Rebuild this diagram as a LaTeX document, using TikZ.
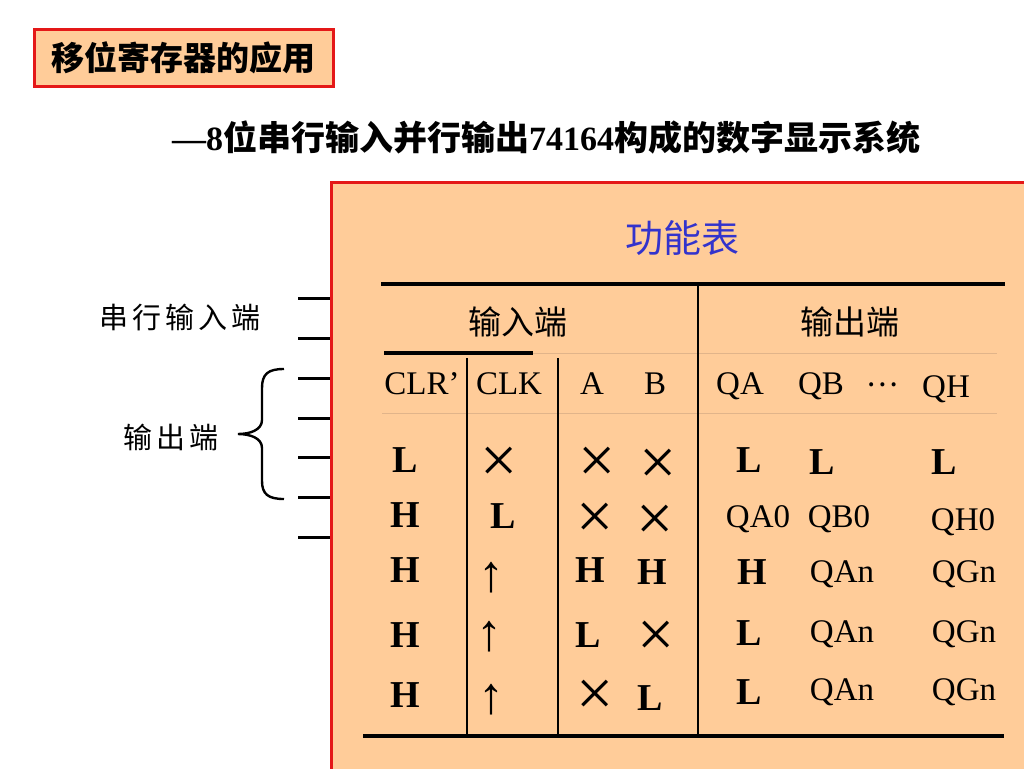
\documentclass[tikz,border=0pt]{standalone}
\usepackage{fontspec}
\setmainfont{Liberation Serif}
\newfontfamily\cjk{Noto Sans CJK SC}
\newfontfamily\cjkls[LetterSpace=14]{Noto Sans CJK SC}
\definecolor{panel}{RGB}{255,204,153}
\definecolor{bred}{RGB}{228,24,24}
\definecolor{tblue}{RGB}{51,51,204}
\definecolor{thinl}{RGB}{225,180,138}
\tikzset{
  bl/.style={anchor=base, inner sep=0pt, font=\fontsize{38}{38}\selectfont\bfseries},
  rg/.style={anchor=base, inner sep=0pt, font=\fontsize{33}{33}\selectfont},
  xx/.style={anchor=base, inner sep=0pt, text height=30pt, text depth=0pt, font=\fontsize{66}{66}\selectfont},
  up/.style={anchor=center, inner sep=0pt, yshift=-2pt, font=\fontsize{52}{52}\selectfont},
  cj/.style={anchor=center, inner sep=0pt, font=\cjk\fontsize{33}{33}\selectfont},
  side/.style={anchor=center, inner sep=0pt, font=\cjkls\fontsize{29}{29}\selectfont},
  pin/.style={line width=3pt, black},
  thick rule/.style={line width=3.5pt, black},
  vrule/.style={line width=2.2pt, black},
  thin rule/.style={line width=1pt, thinl},
}
\begin{document}
\begin{tikzpicture}[x=1pt,y=-1pt]
\useasboundingbox[fill=white] (0,0) rectangle (1024,768);
% title box
\node[draw=bred, line width=3pt, fill=panel, minimum width=299pt, minimum height=56pt,
      inner sep=0pt, font=\cjk\bfseries\fontsize{33}{33}\selectfont] (title) at (183.5,58) {移位寄存器的应用};
% subtitle
\node[anchor=west, inner sep=0pt, font=\fontsize{34}{34}\selectfont\bfseries] (sub) at (172,138)
  {—8{\cjk 位串行输入并行输出}74164{\cjk 构成的数字显示系统}};
% panel
\fill[panel] (331,182) rectangle (1030,775);
\draw[bred, line width=3pt] (331,775) -- (331,182) -- (1030,182);
% function table title
\node[anchor=center, inner sep=0pt, text=tblue, font=\cjk\fontsize{38}{38}\selectfont] (ftitle) at (682,238) {功能表};
% pins
\foreach \yy [count=\i] in {298,338,378,418,457,497,537}{
  \coordinate (p\i a) at (298,\yy);
  \coordinate (p\i b) at (330,\yy);
  \draw[pin] (p\i a) -- (p\i b);
}
% side labels
\node[side] (serin) at (180,317) {串行输入端};
\node[side] (outl) at (171,437) {输出端};
% brace
\draw[line width=2.4pt, black] (284,369) .. controls (268,369) and (262,374) .. (262,388) -- (262,420)
  .. controls (262,430) and (250,434) .. (238,434) .. controls (250,434) and (262,438) .. (262,448)
  -- (262,481) .. controls (262,494) and (268,499) .. (284,499);
% table rules
\draw[thick rule] (381,284) -- (1005,284);
\draw[thick rule] (384,353) -- (533,353);
\draw[thin rule] (533,353) -- (997,353);
\draw[thin rule] (382,413) -- (997,413);
\draw[thick rule] (363,736) -- (1004,736);
\draw[vrule] (698,284) -- (698,736);
\draw[vrule] (467,358) -- (467,736);
\draw[vrule] (558,358) -- (558,736);
% header
\node[cj] (hin) at (518,322) {输入端};
\node[cj] (hout) at (850,322) {输出端};
\node[rg] (hclr) at (422,394) {CLR’};
\node[rg] (hclk) at (509,394) {CLK};
\node[rg] (ha) at (592,394) {A};
\node[rg] (hb) at (655,394) {B};
\node[rg] (hqa) at (740,394) {QA};
\node[rg] (hqb) at (821,394) {QB};
\node[cj, font=\cjk\fontsize{30}{30}\selectfont] (hdots) at (882,385) {⋯};
\node[rg] (hqh) at (946,397) {QH};
% row 1
\node[bl] (a1) at (405,472) {L};
\node[xx] (b1) at (499,482) {×};
\node[xx] (c1) at (597,482) {×};
\node[xx] (d1) at (658,484) {×};
\node[bl] (e1) at (749,472) {L};
\node[bl] (f1) at (822,474) {L};
\node[bl] (g1) at (944,474) {L};
% row 2
\node[bl] (a2) at (405,527) {H};
\node[bl] (b2) at (503,528) {L};
\node[xx] (c2) at (595,538) {×};
\node[xx] (d2) at (655,540) {×};
\node[rg] (e2) at (758,527) {QA0};
\node[rg] (f2) at (839,527) {QB0};
\node[rg] (g2) at (963,530) {QH0};
% row 3
\node[bl] (a3) at (405,582) {H};
\node[up] (b3) at (491,576) {↑};
\node[bl] (c3) at (590,582) {H};
\node[bl] (d3) at (652,584) {H};
\node[bl] (e3) at (752,584) {H};
\node[rg] (f3) at (842,582) {QAn};
\node[rg] (g3) at (964,582) {QGn};
% row 4
\node[bl] (a4) at (405,647) {H};
\node[up] (b4) at (489,635) {↑};
\node[bl] (c4) at (588,647) {L};
\node[xx] (d4) at (656,656) {×};
\node[bl] (e4) at (749,645) {L};
\node[rg] (f4) at (842,642) {QAn};
\node[rg] (g4) at (964,642) {QGn};
% row 5
\node[bl] (a5) at (405,707) {H};
\node[up] (b5) at (491,698) {↑};
\node[xx] (c5) at (595,715) {×};
\node[bl] (d5) at (650,710) {L};
\node[bl] (e5) at (749,704) {L};
\node[rg] (f5) at (842,700) {QAn};
\node[rg] (g5) at (964,700) {QGn};
\end{tikzpicture}
\end{document}
